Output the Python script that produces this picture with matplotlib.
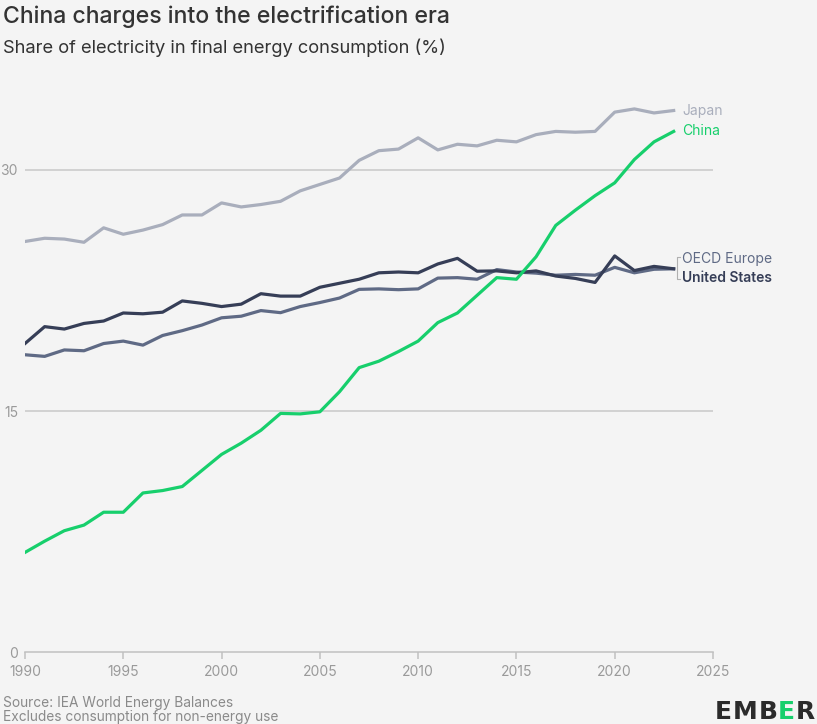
import matplotlib.pyplot as plt

plt.rcParams['font.family'] = ['Inter', 'DejaVu Sans']

years = list(range(1990, 2024))

japan = [25.55, 25.75, 25.7, 25.5, 26.4, 26.0, 26.26, 26.6, 27.2, 27.2,
         27.95, 27.7, 27.85, 28.05, 28.7, 29.1, 29.5, 30.6, 31.2, 31.3,
         32.0, 31.25, 31.6, 31.5, 31.85, 31.75, 32.2, 32.4, 32.35, 32.4,
         33.6, 33.8, 33.55, 33.7]

china = [6.2, 6.9, 7.55, 7.9, 8.7, 8.7, 9.9, 10.05, 10.3, 11.3,
         12.3, 13.0, 13.8, 14.85, 14.82, 14.95, 16.2, 17.7, 18.1, 18.7,
         19.35, 20.5, 21.1, 22.2, 23.3, 23.2, 24.6, 26.55, 27.5, 28.4,
         29.2, 30.65, 31.75, 32.4]

united_states = [19.2, 20.25, 20.1, 20.45, 20.6, 21.1, 21.05, 21.15, 21.85, 21.7,
                 21.5, 21.65, 22.3, 22.15, 22.15, 22.7, 22.95, 23.2, 23.6, 23.65,
                 23.6, 24.15, 24.5, 23.7, 23.72, 23.6, 23.72, 23.4, 23.25, 23.0,
                 24.65, 23.74, 24.0, 23.85]

oecd_europe = [18.5, 18.4, 18.8, 18.75, 19.2, 19.35, 19.1, 19.7, 20.0, 20.35,
               20.8, 20.9, 21.25, 21.12, 21.5, 21.75, 22.03, 22.57, 22.6, 22.55,
               22.6, 23.27, 23.3, 23.2, 23.8, 23.65, 23.58, 23.45, 23.5, 23.45,
               23.94, 23.6, 23.82, 23.85]

bg = '#f4f4f4'
c_japan = '#a9aebc'
c_china = '#17cf6c'
c_us = '#363e57'
c_eu = '#5f6a85'
c_text = '#333333'
c_tick = '#9a9a9a'

fig = plt.figure(figsize=(8.17, 7.24), dpi=100, facecolor=bg)
ax = fig.add_axes([0.0306, 0.0994, 0.8421, 0.7768], facecolor=bg)

for v in [15, 30]:
    ax.axhline(v, color='#c8c8c8', lw=1.1, zorder=1)

ax.plot(years, japan, color=c_japan, lw=2.3, zorder=3)
ax.plot(years, oecd_europe, color=c_eu, lw=2.3, zorder=4)
ax.plot(years, united_states, color=c_us, lw=2.3, zorder=5)
ax.plot(years, china, color=c_china, lw=2.3, zorder=6)

ax.set_xlim(1990, 2025)
ax.set_ylim(0, 35)
ax.set_xticks(range(1990, 2026, 5))
ax.set_yticks([0, 15, 30])
for s in ['top', 'right', 'left']:
    ax.spines[s].set_visible(False)
ax.spines['bottom'].set_color('#c0c0c0')
ax.spines['bottom'].set_linewidth(1.1)
ax.tick_params(axis='x', colors='#c0c0c0', labelcolor=c_tick, length=5,
               width=1.1, labelsize=10, pad=4)
ax.tick_params(axis='y', length=0, labelcolor=c_tick, labelsize=10, pad=5)

# series labels on the right
ax.text(2023.42, 33.7, 'Japan', color=c_japan, fontsize=10, va='center',
        clip_on=False)
ax.text(2023.42, 32.45, 'China', color=c_china, fontsize=10, va='center',
        clip_on=False)
ax.text(2023.42, 24.45, 'OECD Europe', color=c_eu, fontsize=10, va='center',
        clip_on=False)
ax.text(2023.42, 23.3, 'United States', color=c_us, fontsize=10, va='center',
        fontweight='semibold', clip_on=False)
ax.plot([2023.3, 2023.15, 2023.15, 2023.3], [24.6, 24.6, 23.2, 23.2],
        color='#b0b0b0', lw=0.8, clip_on=False)

fig.text(0.004, 0.977, 'China charges into the electrification era',
         fontsize=16.6, color=c_text, fontweight='medium', va='center')
fig.text(0.004, 0.934, 'Share of electricity in final energy consumption (%)',
         fontsize=13.2, color=c_text, va='center')

fig.text(0.004, 0.029, 'Source: IEA World Energy Balances', fontsize=9.9,
         color='#8a8a8a', va='center')
fig.text(0.004, 0.009, 'Excludes consumption for non-energy use', fontsize=9.9,
         color='#8a8a8a', va='center')

# logo
logo_x = 0.875
for ch, col in zip('EMBER', ['#2b2b2b', '#2b2b2b', '#2b2b2b', c_china, '#2b2b2b']):
    t = fig.text(logo_x, 0.016, ch, fontsize=18, fontweight='bold', color=col,
                 va='center', family='DejaVu Sans')
    fig.canvas.draw()
    bb = t.get_window_extent()
    logo_x += bb.width / fig.bbox.width + 0.001

fig.savefig('out.png', dpi=100, facecolor=bg)
